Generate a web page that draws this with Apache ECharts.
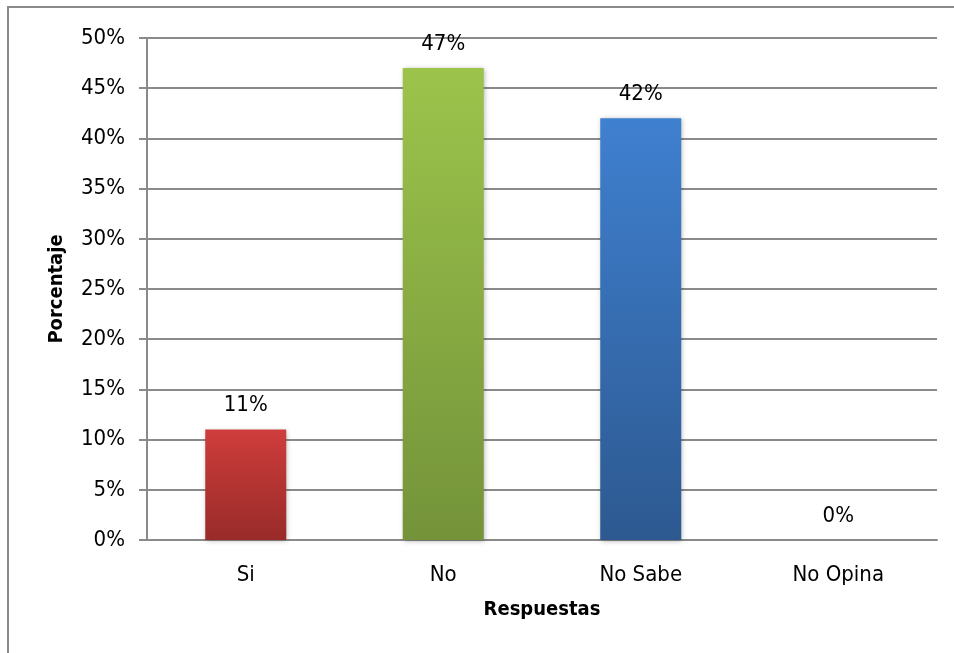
<!DOCTYPE html>
<html>
<head>
<meta charset="utf-8">
<script src="https://cdn.jsdelivr.net/npm/echarts@6/dist/echarts.min.js"></script>
<style>
  html, body { margin: 0; padding: 0; background: #fff; }
  #main { width: 954px; height: 653px; }
</style>
</head>
<body>
<div id="main"></div>
<script>
const categories = ['Si', 'No', 'No Sabe', 'No Opina'];
const values = [11, 47, 42, 0];
const yTicks = [0, 5, 10, 15, 20, 25, 30, 35, 40, 45, 50];
const barColors = [
  ['#cf3d3b', '#982b29'],
  ['#9cc44b', '#74933a'],
  ['#3f80d0', '#2d5990']
];

const font = "'DejaVu Sans Condensed', 'Liberation Sans Narrow', 'Arial Narrow', sans-serif";
const gray = '#8a8a8a';

let myChart = echarts.init(document.getElementById('main'));
myChart.setOption({
  animation: false,
  graphic: [{
    type: 'rect',
    shape: { x: 8, y: 7, width: 1000, height: 700 },
    style: { fill: 'none', stroke: gray, lineWidth: 2 }
  }],
  grid: { left: 147, right: 17, top: 38, bottom: 113 },
  xAxis: {
    type: 'category',
    data: categories,
    name: 'Respuestas',
    nameLocation: 'middle',
    nameGap: 60,
    nameTextStyle: { fontFamily: font, fontSize: 20, fontWeight: 'bold', color: '#000' },
    axisLine: { lineStyle: { color: gray, width: 2 } },
    axisTick: { show: false },
    axisLabel: { fontFamily: font, fontSize: 22, color: '#000', margin: 24 }
  },
  yAxis: {
    type: 'value',
    min: yTicks[0],
    max: yTicks[yTicks.length - 1],
    interval: 5,
    name: 'Porcentaje',
    nameLocation: 'middle',
    nameGap: 80,
    nameTextStyle: { fontFamily: font, fontSize: 20, fontWeight: 'bold', color: '#000' },
    axisLine: { show: true, lineStyle: { color: gray, width: 2 } },
    axisTick: { show: true, length: 8, lineStyle: { color: gray, width: 2 } },
    axisLabel: {
      fontFamily: font, fontSize: 22, color: '#000', margin: 22,
      formatter: v => v + '%'
    },
    splitLine: { lineStyle: { color: gray, width: 2 } }
  },
  series: [{
    type: 'bar',
    barWidth: 81,
    data: values.map((v, i) => {
      const c = barColors[i] || barColors[0];
      return {
        value: v,
        itemStyle: {
          color: new echarts.graphic.LinearGradient(0, 0, 0, 1, [
            { offset: 0, color: c[0] },
            { offset: 1, color: c[1] }
          ]),
          shadowColor: 'rgba(0,0,0,0.3)',
          shadowBlur: 5,
          shadowOffsetX: 1,
          shadowOffsetY: 1
        }
      };
    }),
    label: {
      show: true,
      position: 'top',
      distance: 13,
      fontFamily: font,
      fontSize: 22,
      color: '#000',
      formatter: p => p.value + '%'
    }
  }]
});
</script>
</body>
</html>
